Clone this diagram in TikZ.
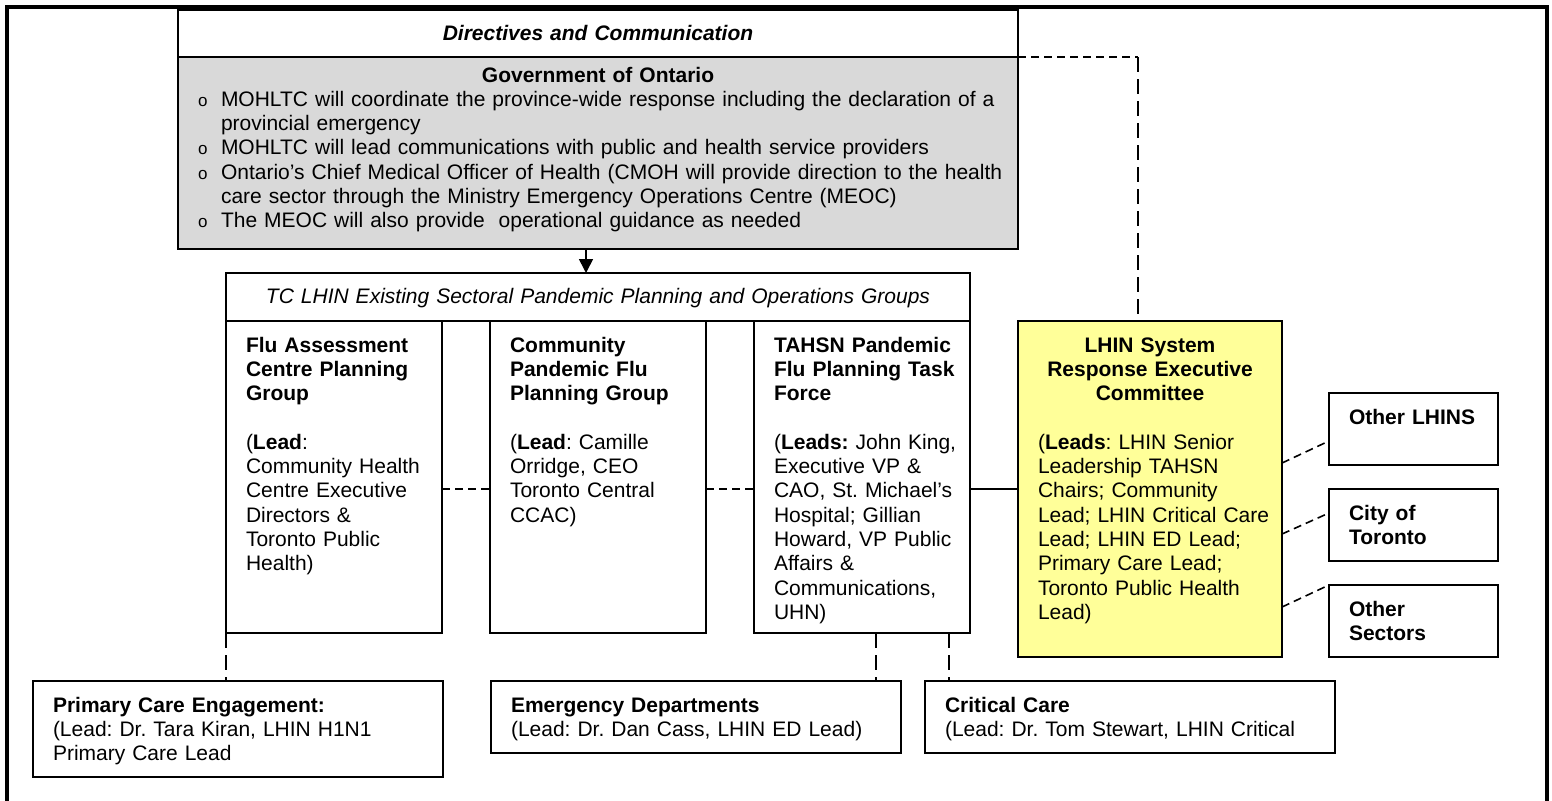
\documentclass[tikz,border=0pt]{standalone}
\usepackage{fontspec}
\setmainfont{Liberation Sans}
\usetikzlibrary{arrows.meta, positioning}

\definecolor{govgray}{HTML}{D9D9D9}
\definecolor{lhinyellow}{HTML}{FFFF99}
\newcommand{\bul}{\makebox[11.5pt][l]{\fontsize{8.5}{8}\selectfont o}}

\tikzset{
  grp/.style={draw, line width=1pt, inner sep=0pt, outer sep=0pt,
    anchor=north west, font=\fontsize{10.5}{12.15}\selectfont\frenchspacing,
    execute at begin node={\leftskip=10pt\rightskip=-10pt plus 1fil}},
  head/.style={draw, line width=1pt, inner sep=0pt, outer sep=0pt,
    anchor=north west, font=\fontsize{10.5}{12.15}\selectfont, align=center},
  side/.style={grp, text width=84.5pt, text height=15.5pt, text depth=20.5pt},
  link/.style={line width=0.8pt, dash pattern=on 4pt off 2.5pt},
  longlink/.style={line width=0.8pt, dash pattern=on 7.5pt off 3.5pt}
}

\begin{document}
\begin{tikzpicture}[x=0.5pt, y=-0.5pt]
  \useasboundingbox (0,0) rectangle (1552,800);
  \draw[line width=1.75pt] (7,7) rectangle (1547,820);

  % directives and communication
  \node[head, text width=420pt, text height=15pt, text depth=8.5pt] (dir) at (178,10)
    {\textbf{\textit{Directives and Communication}}};
  \node[grp, fill=govgray, text width=420pt, text height=12.5pt, text depth=83.5pt,
    below=0pt of dir] (gov)
    {{\centering\textbf{Government of Ontario}\par}
     \bul MOHLTC will coordinate the province-wide response including the declaration of a\\
     \hspace*{11.5pt}provincial emergency\\
     \bul MOHLTC will lead communications with public and health service providers\\
     \bul Ontario’s Chief Medical Officer of Health (CMOH will provide direction to the health\\
     \hspace*{11.5pt}care sector through the Ministry Emergency Operations Centre (MEOC)\\
     \bul The MEOC will also provide\ \ operational guidance as needed};

  % sectoral planning groups
  \node[head, text width=372pt, text height=15pt, text depth=9pt] (tc) at (226,273)
    {\textit{TC LHIN Existing Sectoral Pandemic Planning and Operations Groups}};
  \node[grp, text width=108pt, text height=15.5pt, text depth=140.5pt,
    below=0pt of tc.south west, anchor=north west] (flu)
    {\textbf{Flu Assessment\\Centre Planning\\Group}\\[12.15pt]
     (\textbf{Lead}:\\
     Community Health\\
     Centre Executive\\
     Directors \&\\
     Toronto Public\\
     Health)};
  \node[grp, text width=108pt, text height=15.5pt, text depth=140.5pt,
    right=24pt of flu.north east, anchor=north west] (comm)
    {\textbf{Community\\Pandemic Flu\\Planning Group}\\[12.15pt]
     (\textbf{Lead}: Camille\\
     Orridge, CEO\\
     Toronto Central\\
     CCAC)};
  \node[grp, text width=108pt, text height=15.5pt, text depth=140.5pt,
    right=24pt of comm.north east, anchor=north west] (tahsn)
    {\textbf{TAHSN Pandemic\\Flu Planning Task\\Force}\\[12.15pt]
     (\textbf{Leads:} John King,\\
     Executive VP \&\\
     CAO, St. Michael’s\\
     Hospital; Gillian\\
     Howard, VP Public\\
     Affairs \&\\
     Communications,\\
     UHN)};

  % system response committee
  \node[grp, fill=lhinyellow, text width=132pt, text height=15.5pt, text depth=152.5pt,
    right=24pt of tahsn.north east, anchor=north west] (lhin)
    {{\centering\textbf{LHIN System\\Response Executive\\Committee}\par}
     \vspace{12.15pt}
     (\textbf{Leads}: LHIN Senior\\
     Leadership TAHSN\\
     Chairs; Community\\
     Lead; LHIN Critical Care\\
     Lead; LHIN ED Lead;\\
     Primary Care Lead;\\
     Toronto Public Health\\
     Lead)};

  \node[side] (oth) at (1329,393) {\textbf{Other LHINS}};
  \node[side, below=12pt of oth] (city) {\textbf{City of\\Toronto}};
  \node[side, below=12pt of city] (sect) {\textbf{Other\\Sectors}};

  % engagement leads
  \node[grp, text width=205pt, text height=15.5pt, text depth=32.5pt] (pc) at (33,681)
    {\textbf{Primary Care Engagement:}\\
     (Lead: Dr. Tara Kiran, LHIN H1N1\\
     Primary Care Lead};
  \node[grp, text width=205pt, text height=15.5pt, text depth=20.5pt,
    right=24pt of pc.north east, anchor=north west] (ed)
    {\textbf{Emergency Departments}\\
     (Lead: Dr. Dan Cass, LHIN ED Lead)};
  \node[grp, text width=205pt, text height=15.5pt, text depth=20.5pt,
    right=12pt of ed.north east, anchor=north west] (cc)
    {\textbf{Critical Care}\\
     (Lead: Dr. Tom Stewart, LHIN Critical};

  % links
  \draw[-{Triangle[length=7pt,width=7pt]}, line width=0.8pt]
    ([xshift=-6pt]gov.south) -- ([xshift=-6pt]tc.north);
  \coordinate[xshift=-6pt] (lhintop) at (lhin.north);
  \coordinate (corner) at (lhintop |- gov.north east);
  \draw[link] (gov.north east) -- (corner);
  \draw[longlink] (corner) -- (lhintop);
  \draw[link] ([yshift=-6pt]flu.east) -- ([yshift=-6pt]comm.west);
  \draw[link] ([yshift=-6pt]comm.east) -- ([yshift=-6pt]tahsn.west);
  \draw[line width=0.8pt] ([yshift=-6pt]tahsn.east) -- (lhin.west);
  \draw[link] ([yshift=13pt]lhin.east) -- ([yshift=-6pt]oth.west);
  \draw[link] ([yshift=-22.5pt]lhin.east) -- ([yshift=6pt]city.west);
  \draw[link] ([yshift=-59pt]lhin.east) -- (sect.north west);
  \draw[longlink] (flu.south west) -- (flu.south west |- pc.north);
  \coordinate[xshift=7pt] (edtop) at (tahsn.south);
  \coordinate[xshift=43.5pt] (cctop) at (tahsn.south);
  \draw[longlink] (edtop) -- (edtop |- ed.north);
  \draw[longlink] (cctop) -- (cctop |- cc.north);
\end{tikzpicture}
\end{document}
